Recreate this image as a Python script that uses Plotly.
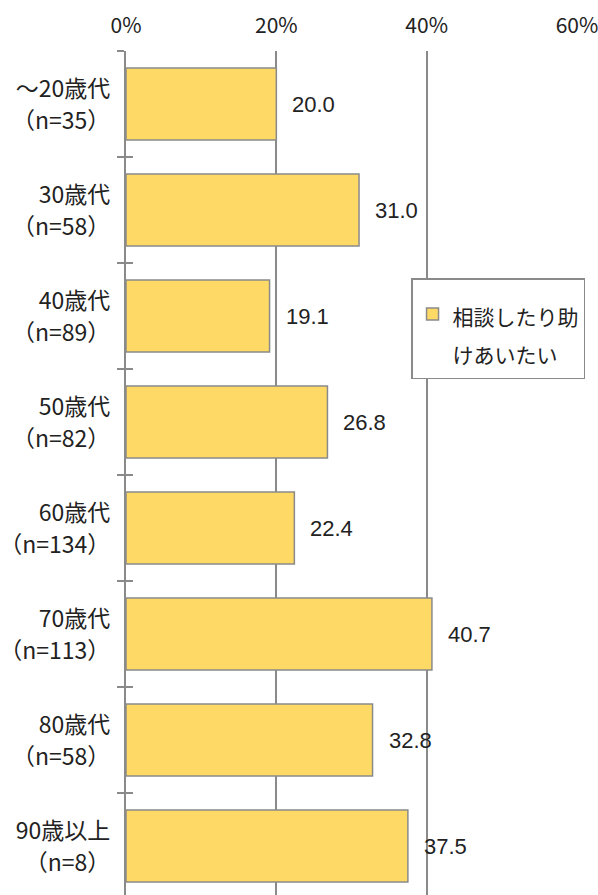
import plotly.graph_objects as go

categories = ["～20歳代<br>（n=35）", "30歳代<br>（n=58）", "40歳代<br>（n=89）", "50歳代<br>（n=82）",
              "60歳代<br>（n=134）", "70歳代<br>（n=113）", "80歳代<br>（n=58）", "90歳以上<br>（n=8）"]
values = [20.0, 31.0, 19.1, 26.8, 22.4, 40.7, 32.8, 37.5]
series_name = "相談したり助<br>けあいたい"
x_ticks = [0, 20, 40, 60]
x_tick_labels = ["0%", "20%", "40%", "60%"]

GRAY = "#8a8a8a"
JP = "Noto Sans CJK JP"
TXT = "#222222"


def sized(label, px):
    return "<br>".join(f"<span style='font-size:{px}px'>{part}</span>" for part in label.split("<br>"))


fig = go.Figure()
fig.add_trace(go.Bar(
    x=values, y=categories, orientation="h", name=sized(series_name, 21),
    marker=dict(color="#FFD966", line=dict(color=GRAY, width=1.5)),
    hoverinfo="skip",
))
# helper trace to draw inside half of the boundary tick marks
fig.add_trace(go.Scatter(
    x=[0] * len(categories), y=categories, yaxis="y2", mode="markers",
    marker=dict(opacity=0), showlegend=False, hoverinfo="skip",
))

for c, v in zip(categories, values):
    fig.add_annotation(x=v, y=c, text=f"{v:.1f}", showarrow=False,
                       xanchor="left", xshift=14,
                       font=dict(family="Liberation Sans", size=22, color=TXT))

yrange = [7.5 - 4 / 106, -0.5]
fig.update_layout(
    width=598, height=895,
    margin=dict(l=126, r=21, t=51, b=0),
    paper_bgcolor="white", plot_bgcolor="white",
    font=dict(family=JP, size=21, color=TXT),
    bargap=0.32,
    showlegend=True,
    legend=dict(x=0.632, y=0.731, xanchor="left", yanchor="top",
                bordercolor=GRAY, borderwidth=1.5, bgcolor="white",
                valign="top", font=dict(family=JP, size=29, color=TXT),
                title=dict(text="&nbsp;", font=dict(size=7))),
    xaxis=dict(side="top", range=[0, 60], tickmode="array", tickvals=x_ticks,
               ticktext=x_tick_labels, ticklabeloverflow="allow",
               showgrid=True, gridcolor=GRAY, gridwidth=1.5, zeroline=False,
               showline=False, ticks="", fixedrange=True, ticklabelstandoff=13,
               tickfont=dict(family=JP, size=21, color=TXT)),
    yaxis=dict(type="category", categoryorder="array", categoryarray=categories,
               tickmode="array", tickvals=categories,
               ticktext=[sized(c, 23) for c in categories],
               range=yrange, showline=True, linecolor=GRAY, linewidth=1.5,
               ticks="outside", tickson="boundaries", ticklen=7, tickcolor=GRAY,
               tickwidth=1.5, showgrid=False, ticklabelstandoff=9,
               tickfont=dict(family=JP, size=25, color=TXT)),
    yaxis2=dict(type="category", categoryorder="array", categoryarray=categories,
                range=yrange, overlaying="y", anchor="x", side="left",
                ticks="inside", tickson="boundaries", ticklen=7, tickcolor=GRAY,
                tickwidth=1.5, showticklabels=False, showline=False, showgrid=False),
)

fig.write_html("out.html")
